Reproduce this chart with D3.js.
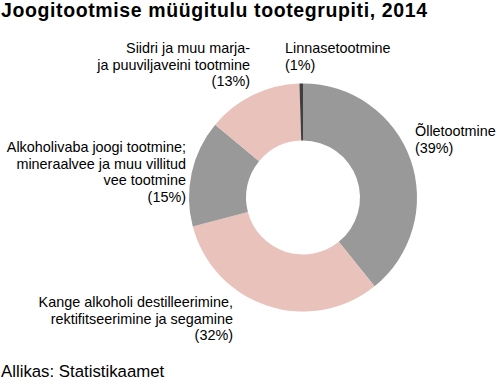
<!DOCTYPE html>
<html><head><meta charset="utf-8">
<script src="https://cdn.jsdelivr.net/npm/d3@7"></script>
<style>
body{margin:0;background:#fff;}
svg{display:block;font-family:Arial,"Liberation Sans",sans-serif;}
</style></head>
<body><svg id="c" width="497" height="385"></svg>
<script>
const categories = [
  "Õlletootmine",
  "Kange alkoholi destilleerimine, rektifitseerimine ja segamine",
  "Alkoholivaba joogi tootmine; mineraalvee ja muu villitud vee tootmine",
  "Siidri ja muu marja- ja puuviljaveini tootmine",
  "Linnasetootmine"
];
const values = [39.2, 31.7, 15.1, 13.5, 0.5];
const percentLabels = ["39%", "32%", "15%", "13%", "1%"];
const labelLines = [
  ["Õlletootmine"],
  ["Kange alkoholi destilleerimine,", "rektifitseerimine ja segamine"],
  ["Alkoholivaba joogi tootmine;", "mineraalvee ja muu villitud", "vee tootmine"],
  ["Siidri ja muu marja-", "ja puuviljaveini tootmine"],
  ["Linnasetootmine"]
];
const colors = ["#999999", "#e8c2bb", "#999999", "#e8c2bb", "#404040"];
// label layout: x, first baseline y, anchor
const labelLayout = [
  {x: 415, y: 136, anchor: "start"},
  {x: 233, y: 307, anchor: "end"},
  {x: 186, y: 152, anchor: "end"},
  {x: 250, y: 53, anchor: "end"},
  {x: 285, y: 53, anchor: "start"}
];

const svg = d3.select("#c");
const cx = 303, cy = 197.5, rOuter = 114, rInner = 57;

svg.append("text").attr("x", 1).attr("y", 17)
  .attr("font-size", "19.5px").attr("font-weight", "bold").attr("fill", "#000")
  .attr("textLength", 426).attr("lengthAdjust", "spacing")
  .text("Joogitootmise müügitulu tootegrupiti, 2014");

const data = categories.map((c, i) => ({cat: c, value: values[i], pct: percentLabels[i], lines: labelLines[i], color: colors[i], lay: labelLayout[i]}));

const pie = d3.pie().sort(null).value(d => d.value).startAngle(0).endAngle(2 * Math.PI);
const arc = d3.arc().innerRadius(rInner).outerRadius(rOuter);

const g = svg.append("g").attr("transform", `translate(${cx},${cy})`);
g.selectAll("path").data(pie(data)).join("path")
  .attr("d", arc).attr("fill", d => d.data.color);

const lh = 16.5;
data.forEach(d => {
  const t = svg.append("text").attr("font-size", "14.4px").attr("fill", "#000")
    .attr("text-anchor", d.lay.anchor);
  const lines = d.lines.concat(["(" + d.pct + ")"]);
  lines.forEach((ln, i) => {
    t.append("tspan").attr("x", d.lay.x).attr("y", d.lay.y + i * lh).text(ln);
  });
});

svg.append("text").attr("x", 1).attr("y", 376.5)
  .attr("font-size", "16.8px").attr("fill", "#000")
  .text("Allikas: Statistikaamet");
</script></body></html>
